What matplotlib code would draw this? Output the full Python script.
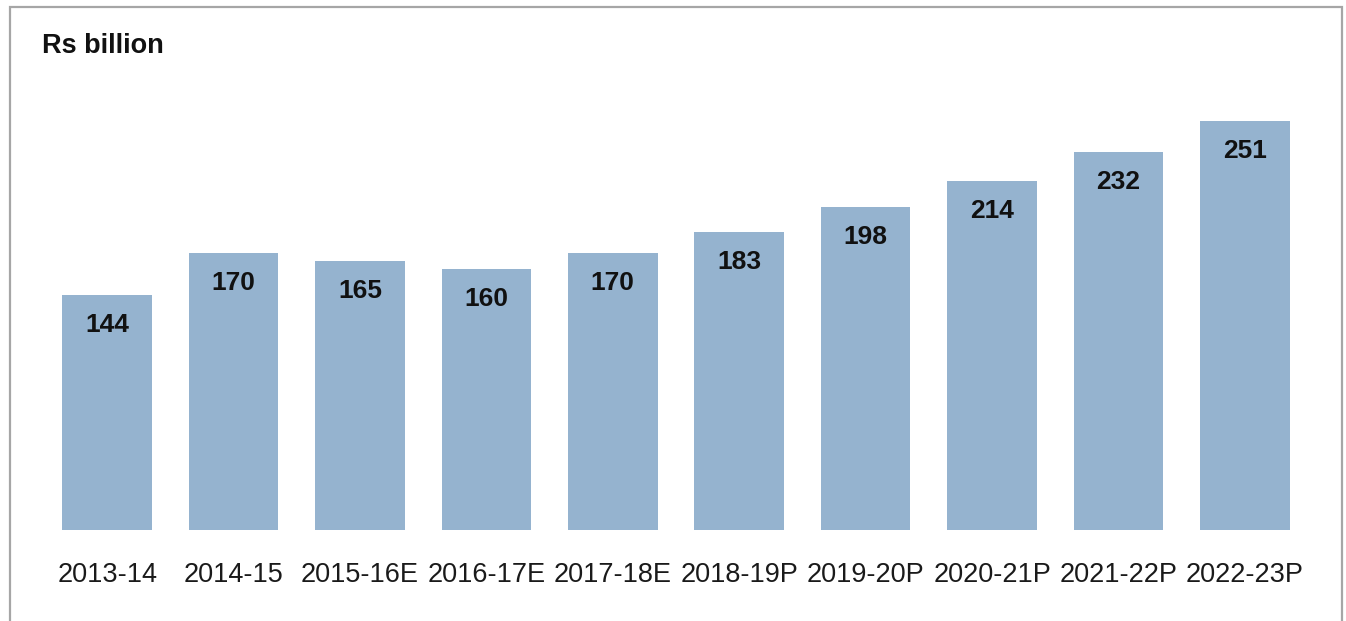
import matplotlib.pyplot as plt
from matplotlib.patches import Rectangle

years = ["2013-14", "2014-15", "2015-16E", "2016-17E", "2017-18E",
         "2018-19P", "2019-20P", "2020-21P", "2021-22P", "2022-23P"]
values = [144, 170, 165, 160, 170, 183, 198, 214, 232, 251]

W, H = 1346, 621
plt.rcParams['font.family'] = ['Liberation Sans', 'DejaVu Sans']

fig = plt.figure(figsize=(W / 100, H / 100), dpi=100)
fig.patch.set_facecolor("white")

# axes placed in pixel terms: bars centred 126 px apart, baseline at y=530
ax = fig.add_axes([44 / W, 1 - 530 / H, 1264 / W, 430 / H])
x = range(len(years))
bars = ax.bar(x, values, width=0.71, color="#95b3cf", edgecolor="none")

for b, v in zip(bars, values):
    ax.text(b.get_x() + b.get_width() / 2, v - 18.5, str(v),
            ha="center", va="center", fontsize=19, fontweight="bold",
            color="#111111")

ax.set_xlim(-0.5, len(years) - 0.5)
ax.set_ylim(0, 430 / 1.63)
ax.set_xticks(list(x))
ax.set_xticklabels(years, fontsize=19.5, color="#1a1a1a")
ax.tick_params(axis="x", length=0, pad=23)
ax.set_yticks([])
for s in ax.spines.values():
    s.set_visible(False)

fig.text(42 / W, 1 - 46 / H, "Rs billion", fontsize=19.5, fontweight="bold",
         ha="left", va="center", color="#111111")

# grey frame around the chart
fig.patches.append(Rectangle((10 / W, -0.05), 1332 / W, 1 - 7 / H + 0.05,
                             transform=fig.transFigure, fill=False,
                             edgecolor="#a6a6a6", linewidth=1.6))

fig.savefig("out.png", dpi=100, facecolor="white")
